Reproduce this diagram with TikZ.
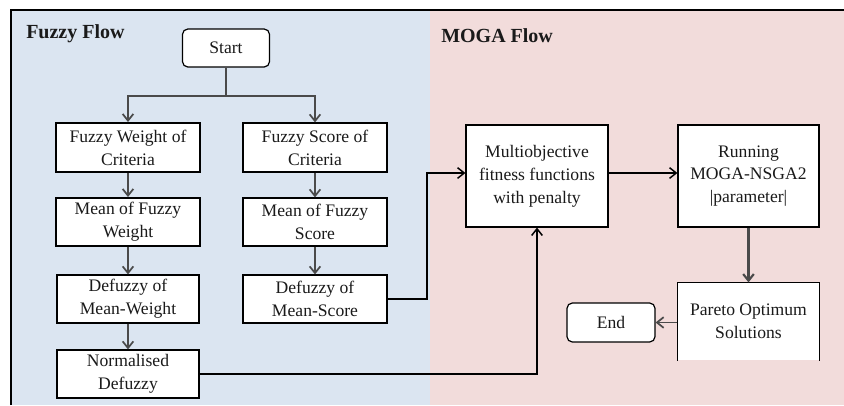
\documentclass[tikz,border=0pt]{standalone}
\usepackage{fontspec}
\setmainfont{Liberation Serif}
\usetikzlibrary{arrows.meta}
\definecolor{bgblue}{HTML}{DBE5F1}
\definecolor{bgpink}{HTML}{F2DCDB}
\definecolor{linegray}{HTML}{4A4A4A}
\definecolor{txt}{HTML}{1A1A1A}
\begin{document}
\begin{tikzpicture}[x=0.75pt,y=-0.75pt,
  box/.style={draw=black,fill=white,line width=0.9pt,inner sep=0pt,align=center,
    text=txt,font=\fontsize{13.2}{17.2}\selectfont},
  thickbox/.style={box,line width=1.5pt},
  term/.style={box,rounded corners=4pt},
  conn/.style={draw=linegray,line width=1.3pt,-{Straight Barb[length=5pt,width=8pt]}},
  bconn/.style={draw=black,line width=1.1pt,-{Straight Barb[length=5pt,width=8pt]}},
  ttl/.style={font=\fontsize{15}{18}\bfseries\selectfont,text=txt,inner sep=0pt,anchor=west}]
\useasboundingbox (0,0) rectangle (844,405);
\fill[white] (0,0) rectangle (844,405);
\fill[bgblue] (12,10) rectangle (430,405);
\fill[bgpink] (430,10) rectangle (844,405);
\draw[black,line width=1.5pt] (11,405) -- (11,10) -- (844,10);
\node[ttl] (t1) at (26,34) {Fuzzy\ Flow};
\node[ttl] (t2) at (441,36) {MOGA Flow};
% nodes
\node[term,minimum width=65.25pt,minimum height=28.5pt] (start) at (226,48) {Start};
\node[thickbox,minimum width=108pt,minimum height=36.75pt] (fw) at (128,147.5) {Fuzzy Weight of\\Criteria};
\node[box,minimum width=108pt,minimum height=36.75pt] (fs) at (315,147.5) {Fuzzy Score of\\Criteria};
\node[thickbox,minimum width=108pt,minimum height=36pt] (mw) at (128,222) {Mean of Fuzzy\\Weight};
\node[box,minimum width=108pt,minimum height=36pt] (ms) at (315,222) {Mean of Fuzzy\\Score};
\node[box,minimum width=106.5pt,minimum height=36pt] (dw) at (128,299) {Defuzzy of\\Mean-Weight};
\node[box,minimum width=108pt,minimum height=36pt] (ds) at (315,299) {Defuzzy of\\Mean-Score};
\node[box,minimum width=106.5pt,minimum height=36pt] (nd) at (128,374) {Normalised\\Defuzzy};
\node[box,minimum width=106.5pt,minimum height=76.5pt] (mo) at (537,176) {Multiobjective\\fitness functions\\with penalty};
\node[box,minimum width=105.75pt,minimum height=76.5pt] (run) at (748.5,176) {Running\\MOGA-NSGA2\\|parameter|};
\node[box,draw=none,minimum width=105.75pt,minimum height=57.75pt] (par) at (748.5,321.5) {Pareto Optimum\\Solutions};
\draw[black,line width=0.9pt] (par.south west) -- (par.north west) -- (par.north east) -- (par.south east);
\node[term,minimum width=66pt,minimum height=29.25pt] (end) at (611,322.5) {End};
% connectors
\coordinate (split) at (226,96);
\draw[linegray,line width=1.3pt] (start.south) -- (split);
\draw[conn] (split) -| (fw.north);
\draw[conn] (split) -| (fs.north);
\draw[conn] (fw) -- (mw);
\draw[conn] (mw) -- (dw);
\draw[conn] (dw) -- (nd);
\draw[conn] (fs) -- (ms);
\draw[conn] (ms) -- (ds);
\coordinate (c1) at (427,173);
\coordinate (c2) at (466,173);
\draw[bconn] (ds.east) -| (c1) -- (mo.west |- c2);
\draw[bconn] (nd.east) -| (mo.south);
\draw[bconn] (mo.east |- c2) -- (run.west |- c2);
\draw[conn,line width=1.6pt] (run.south) -- (par.north);
\draw[conn] (par.west |- end.east) -- (end.east);
\end{tikzpicture}
\end{document}
